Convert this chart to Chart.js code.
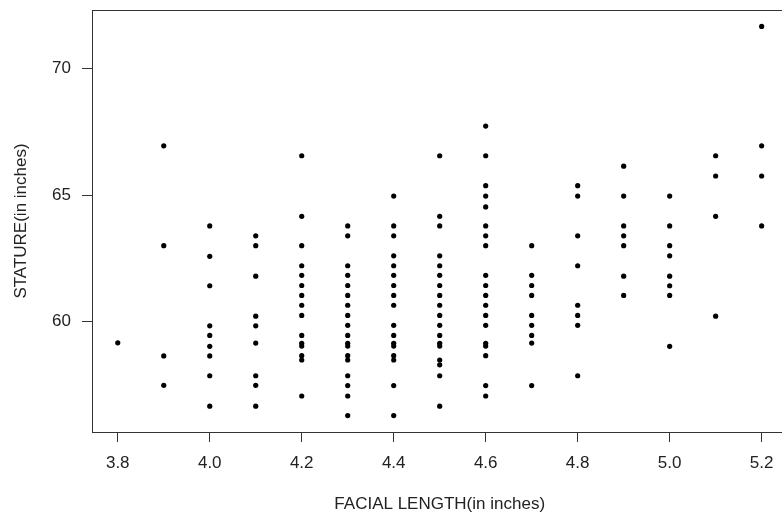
<!DOCTYPE html>
<html>
<head>
<meta charset="utf-8">
<script src="https://cdn.jsdelivr.net/npm/chart.js@4/dist/chart.umd.min.js"></script>
<style>
  html, body { margin: 0; padding: 0; background: #fff; overflow: hidden; }
  #wrap { width: 790px; height: 520px; position: relative; }
</style>
</head>
<body>
<div id="wrap"><canvas id="c"></canvas></div>
<script>
// Facial length groups (inches) and stature values (inches)
const facialLengths = [3.8, 3.9, 4.0, 4.1, 4.2, 4.3, 4.4, 4.5, 4.6, 4.7, 4.8, 4.9, 5.0, 5.1, 5.2];
const stature38 = [59.17];
const stature39 = [66.94, 63.00, 58.65, 57.49];
const stature40 = [63.78, 62.58, 61.42, 59.84, 59.46, 59.03, 58.65, 57.87, 56.67];
const stature41 = [63.39, 63.00, 61.80, 60.22, 59.84, 59.16, 57.87, 57.49, 56.67];
const stature42 = [66.55, 64.16, 63.00, 62.21, 61.83, 61.43, 61.04, 60.65, 60.25, 59.46, 59.15, 59.04, 58.66, 58.49, 57.07];
const stature43 = [63.78, 63.39, 62.21, 61.83, 61.43, 61.04, 60.65, 60.25, 59.86, 59.46, 59.15, 59.04, 58.66, 58.49, 57.87, 57.48, 57.07, 56.30];
const stature44 = [64.96, 63.78, 63.39, 62.60, 62.21, 61.83, 61.43, 61.04, 60.65, 59.86, 59.46, 59.15, 59.04, 58.66, 58.49, 57.48, 56.30];
const stature45 = [66.55, 64.16, 63.78, 62.60, 62.21, 61.83, 61.43, 61.04, 60.65, 60.25, 59.86, 59.46, 59.15, 59.04, 58.49, 58.30, 57.87, 56.67];
const stature46 = [67.72, 66.55, 65.37, 64.96, 64.53, 63.78, 63.39, 63.00, 61.83, 61.43, 61.04, 60.65, 60.25, 59.86, 59.15, 59.04, 58.66, 57.48, 57.07];
const stature47 = [63.00, 61.83, 61.43, 61.04, 60.25, 59.86, 59.46, 59.16, 57.48];
const stature48 = [65.37, 64.96, 63.39, 62.21, 60.65, 60.25, 59.86, 57.87];
const stature49 = [66.14, 64.96, 63.78, 63.39, 63.00, 61.80, 61.04];
const stature50 = [64.96, 63.78, 63.00, 62.60, 61.80, 61.42, 61.04, 59.03];
const stature51 = [66.55, 65.75, 64.16, 60.22];
const stature52 = [71.65, 66.94, 65.75, 63.78];

const xTicks = [3.8, 4.0, 4.2, 4.4, 4.6, 4.8, 5.0, 5.2];
const yTicks = [60, 65, 70];
const xTitle = 'FACIAL LENGTH(in inches)';
const yTitle = 'STATURE(in inches)';

const groups = [stature38, stature39, stature40, stature41, stature42, stature43, stature44,
  stature45, stature46, stature47, stature48, stature49, stature50, stature51, stature52];

const points = [];
groups.forEach((vals, i) => vals.forEach(v => points.push({ x: facialLengths[i], y: v })));

const FONT = '"Liberation Sans", Arial, sans-serif';
const INK = '#222';

const framePlugin = {
  id: 'frame',
  afterDraw(chart) {
    const a = chart.chartArea, ctx = chart.ctx;
    ctx.save();
    ctx.strokeStyle = '#333';
    ctx.lineWidth = 1;
    ctx.strokeRect(Math.round(a.left) + 0.5, Math.round(a.top) + 0.5,
      Math.round(a.right - a.left), Math.round(a.bottom - a.top));
    ctx.restore();
  }
};

new Chart(document.getElementById('c'), {
  type: 'scatter',
  data: {
    datasets: [{
      data: points,
      backgroundColor: '#000',
      borderWidth: 0,
      pointRadius: 2.6,
      pointHoverRadius: 2.6
    }]
  },
  options: {
    responsive: true,
    maintainAspectRatio: false,
    animation: false,
    events: [],
    layout: { padding: { top: 10, right: 1, bottom: 0, left: 0 } },
    plugins: { legend: { display: false }, tooltip: { enabled: false } },
    scales: {
      x: {
        type: 'linear',
        min: 3.744, max: 5.256,
        afterBuildTicks: s => { s.ticks = xTicks.map(v => ({ value: v })); },
        afterFit: s => { s.height = 88; s.paddingLeft = 0; s.paddingRight = 0; },
        border: { display: false },
        grid: { drawOnChartArea: false, drawTicks: true, tickLength: 10, color: '#333' },
        ticks: {
          padding: 11, color: INK, maxRotation: 0, autoSkip: false,
          font: { family: FONT, size: 17 },
          callback: v => Number(v).toFixed(1)
        },
        title: {
          display: true, text: xTitle, color: INK,
          font: { family: FONT, size: 17 },
          padding: { top: 0, bottom: 5 }
        }
      },
      y: {
        type: 'linear',
        min: 55.65, max: 72.30,
        afterBuildTicks: s => { s.ticks = yTicks.map(v => ({ value: v })); },
        afterFit: s => { s.width = 92; s.paddingTop = 0; s.paddingBottom = 0; },
        border: { display: false },
        grid: { drawOnChartArea: false, drawTicks: true, tickLength: 10, color: '#333' },
        ticks: {
          padding: 11, color: INK, autoSkip: false,
          font: { family: FONT, size: 17 },
          callback: v => String(v)
        },
        title: {
          display: true, text: yTitle, color: INK,
          font: { family: FONT, size: 17 },
          padding: { top: 11, bottom: 0 }
        }
      }
    }
  },
  plugins: [framePlugin]
});
</script>
</body>
</html>
